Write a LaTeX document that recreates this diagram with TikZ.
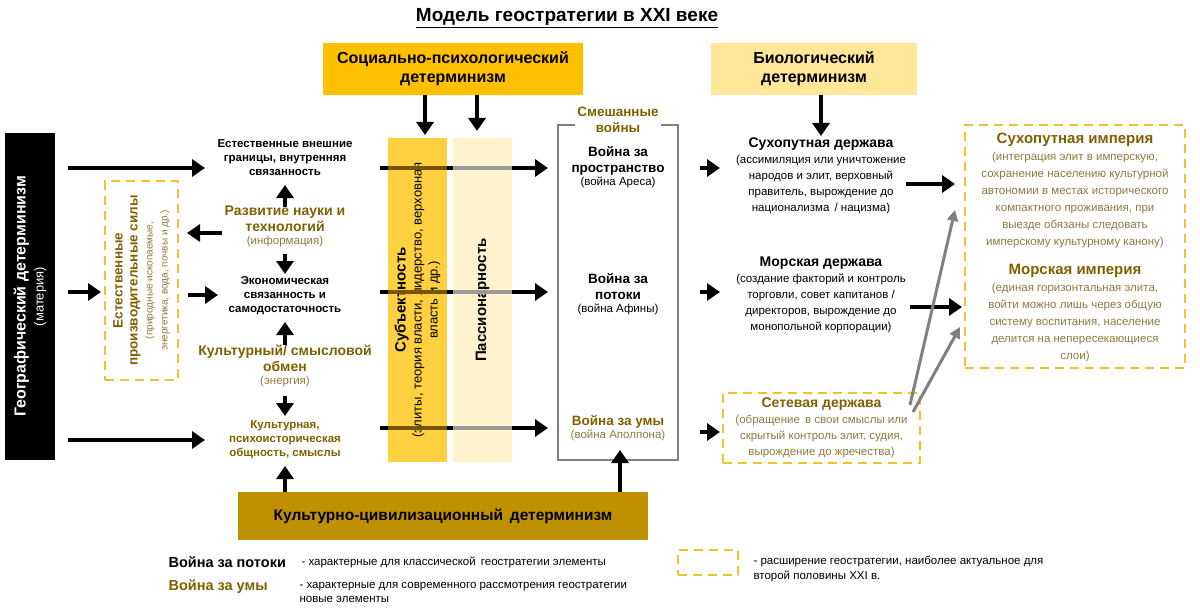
\documentclass[tikz,border=0pt]{standalone}
\usepackage{fontspec}
\setmainfont{Liberation Sans}
\usetikzlibrary{arrows.meta}
\definecolor{gold}{HTML}{7F6000}
\definecolor{orng}{HTML}{FFC000}
\definecolor{lbio}{HTML}{FFE699}
\definecolor{dgold}{HTML}{BF9000}
\definecolor{dash}{HTML}{F2C12E}
\definecolor{gtxt}{HTML}{8C7A40}
\newcommand{\fs}[2]{\fontsize{#1}{#2}\selectfont}
\newcommand{\sg}{\mdseries\fs{11.5}{14}\color{gtxt}}
\newcommand{\sk}{\mdseries\fs{11.5}{14}}
\begin{document}
\begin{tikzpicture}[x=1pt,y=-1pt,
 arr/.style={line width=4.5pt,-{Triangle[length=13pt,width=17pt]}},
 garr/.style={line width=3pt,draw=gray,-{Triangle[length=11pt,width=11pt]}},
 t/.style={align=center,font=\fs{11.5}{14}\bfseries},
 tg/.style={t,text=gold},
 dbox/.style={draw=dash,line width=2pt,dash pattern=on 9pt off 6pt}]
\useasboundingbox (0,0) rectangle (1200,615);
\node[font=\fs{19}{22}\bfseries] (title) at (567,18) {\underline{Модель геостратегии в XXI веке}};
% top boxes
\node[fill=orng,minimum width=260,minimum height=52,align=center,font=\fs{16}{19}\bfseries] (soc) at (453,69) {Социально-психологический\\детерминизм};
\node[fill=lbio,minimum width=206,minimum height=52,align=center,font=\fs{16}{19}\bfseries] (bio) at (814,69) {Биологический\\детерминизм};
% columns
\node[fill=orng!75,minimum width=59,minimum height=324,inner sep=0] (subj) at (417.5,300) {};
\node[fill=orng!20,minimum width=59,minimum height=324,inner sep=0] (pass) at (482.5,300) {};
\node[rotate=90,align=center,font=\fs{15}{16}\bfseries] at (subj) {Субъектность\\\mdseries\fs{13}{15}(элиты, теория власти, лидерство, верховная\\\mdseries\fs{13}{15}власть и др.)};
\node[rotate=90,font=\fs{15}{17}\bfseries] at (pass) {Пассионарность};
% geo
\node[fill=black,minimum width=50,minimum height=327,inner sep=0] (geo) at (30,296.5) {};
\node[rotate=90,text=white,align=center,font=\fs{16}{18}\bfseries] at (geo) {Географический детерминизм\\\mdseries\fs{13}{15}(материя)};
% dashed forces
\node[dbox,minimum width=73,minimum height=199,inner sep=0] (forces) at (141.5,280.5) {};
\node[rotate=90,align=center,text=gold,font=\fs{13.5}{15}\bfseries] at (forces) {Естественные\\производительные силы\\\mdseries\fs{10}{12}\color{gtxt}(природные ископаемые,\\\mdseries\fs{10}{12}\color{gtxt}энергетика, вода, почвы и др.)};
% left column texts
\node[t] (nat) at (285,158) {Естественные внешние\\границы, внутренняя\\связанность};
\node[tg,font=\fs{14}{16}\bfseries] (sci) at (285,226) {Развитие науки и\\технологий\\[-3pt]\sg(информация)};
\node[t] (eco) at (285,296) {Экономическая\\связанность и\\самодостаточность};
\node[tg,font=\fs{14}{16}\bfseries] (cul) at (285,366) {Культурный/ смысловой\\обмен\\[-3pt]\sg(энергия)};
\node[tg] (psy) at (285,440) {Культурная,\\психоисторическая\\общность, смыслы};
% bottom box
\node[fill=dgold,minimum width=410,minimum height=48,font=\fs{15.5}{18}\bfseries] (civ) at (443,516) {Культурно-цивилизационный\, детерминизм};
% mixed wars bracket
\coordinate (mw1) at (575,125); \coordinate (mw2) at (661,125);
\draw[gray,line width=1.5pt] (mw1) -- (558,125) -- (558,460) -- (678,460) -- (678,125) -- (mw2);
\node[align=center,text=gold,font=\fs{13.5}{16}\bfseries] (mix) at (618,120) {Смешанные\\войны};
\node[align=center,font=\fs{13.5}{16}\bfseries] (wsp) at (618,167) {Война за\\пространство\\[-3pt]\sk(война Ареса)};
\node[align=center,font=\fs{13.5}{16}\bfseries] (wfl) at (618,294) {Война за\\потоки\\[-3pt]\sk(война Афины)};
\node[align=center,text=gold,font=\fs{13.5}{16}\bfseries] (wmi) at (618,428) {Война за умы\\[-3pt]\sg(война Аполпона)};
% powers
\node[align=center,font=\fs{14}{16}\bfseries] (land) at (821,176) {Сухопутная держава\\\sk(ассимиляция или уничтожение\\\sk народов и элит, верховный\\\sk правитель, вырождение до\\\sk национализма\, / нацизма)};
\node[align=center,font=\fs{14}{16}\bfseries] (sea) at (821,295) {Морская держава\\\sk(создание факторий и контроль\\\sk торговли, совет капитанов /\\\sk директоров, вырождение до\\\sk монопольной корпорации)};
\node[dbox,minimum width=197,minimum height=70,inner sep=0] (netb) at (821.5,428) {};
\node[align=center,text=gold,font=\fs{14}{16}\bfseries] (net) at (821.5,428) {Сетевая держава\\\sg(обращение\, в свои смыслы или\\\sg скрытый контроль элит, судия,\\\sg вырождение до жречества)};
\node[dbox,minimum width=220,minimum height=243,inner sep=0] (empb) at (1075,246.5) {};
\node[align=center,text=gold,font=\fs{15}{17}\bfseries] (lemp) at (1075,190) {Сухопутная империя\\\sg(интеграция элит в имперскую,\\\sg сохранение населению культурной\\\sg автономии в местах исторического\\\sg компактного проживания, при\\\sg выезде обязаны следовать\\\sg имперскому культурному канону)};
\node[align=center,text=gold,font=\fs{15}{17}\bfseries] (semp) at (1075,313) {Морская империя\\\sg(единая горизонтальная элита,\\\sg войти можно лишь через общую\\\sg систему воспитания, население\\\sg делится на непересекающиеся\\\sg слои)};
% arrows
\draw[arr] (68,168) -- (205,168);
\draw[arr] (68,292) -- (101,292);
\draw[arr] (68,440) -- (205,440);
\draw[arr] (222,233) -- (187,233);
\draw[arr] (188,295) -- (218,295);
\draw[arr] (285,207) -- (285,185);
\draw[arr] (285,254) -- (285,274);
\draw[arr] (285,345) -- (285,322);
\draw[arr] (285,396) -- (285,416);
\draw[arr] (285,492) -- (285,466);
\draw[arr] (620,492) -- (620,450);
\draw[arr] (425,95) -- (425,135);
\draw[arr] (477,95) -- (477,131);
\draw[arr] (821,95) -- (821,136);
\foreach \y in {168,292,428}{
 \draw[arr] (380,\y) -- (548,\y);
 \fill[black!55!orng] (388,\y-2.3) rectangle (447,\y+2.3);
 \fill[gray!80] (453,\y-2.3) rectangle (512,\y+2.3);
}
\draw[arr] (700,168) -- (720,168);
\draw[arr] (700,292) -- (720,292);
\draw[arr] (700,432) -- (720,432);
\draw[arr] (906,184) -- (955,184);
\draw[arr] (910,307) -- (962,307);
\draw[garr] (910,405) -- (955,210);
\draw[garr] (913,412) -- (960,327);
% legend
\node[anchor=west,font=\fs{14.5}{16}\bfseries] (l1) at (165,562) {Война за потоки};
\node[anchor=west,font=\fs{11.5}{13}] (l1d) at (298,562) {- характерные для классической\, геостратегии элементы};
\node[anchor=west,font=\fs{14.5}{16}\bfseries,text=gold] (l2) at (165,587) {Война за умы};
\node[anchor=north west,align=left,font=\fs{11.5}{14}] (l2d) at (296,579) {- характерные для современного рассмотрения геостратегии\\новые элементы};
\node[dbox,minimum width=60,minimum height=25,inner sep=0] (l3) at (708,562.5) {};
\node[anchor=west,align=left,font=\fs{11.5}{15}] (l3d) at (750,569) {- расширение геостратегии, наиболее актуальное для\\второй половины XXI в.};
\end{tikzpicture}
\end{document}
